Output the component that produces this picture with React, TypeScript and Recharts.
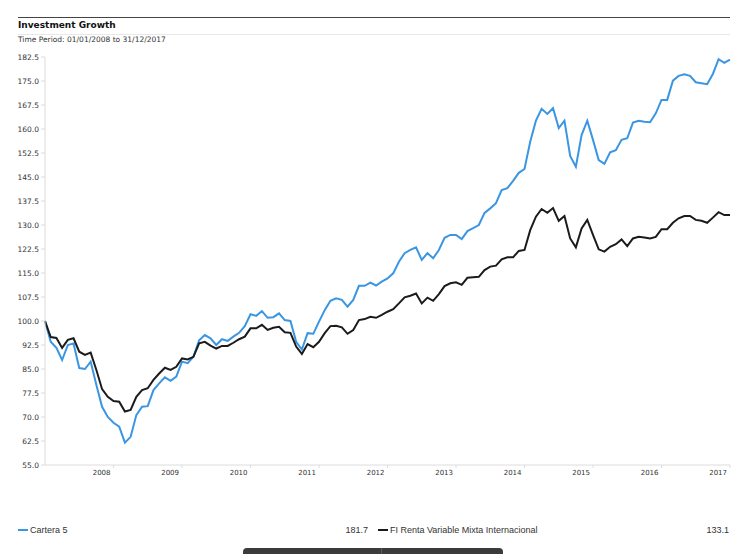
import { Line, LineChart, XAxis, YAxis } from 'recharts';

const years = ['2008', '2009', '2010', '2011', '2012', '2013', '2014', '2015', '2016', '2017'];

const yTicks = [55, 62.5, 70, 77.5, 85, 92.5, 100, 107.5, 115, 122.5, 130, 137.5, 145, 152.5, 160, 167.5, 175, 182.5];

// monthly values, Cartera 5
const cartera = [
    100, 93.5, 91.6, 87.8, 92.5, 93, 85.3, 85, 87.3, 80,
    73.2, 70, 68.2, 67, 62, 63.8, 70.6, 73.2, 73.4, 78.4,
    80.5, 82.4, 81.3, 82.6, 87.3, 86.8, 88.8, 94, 95.6, 94.6,
    92.5, 94.3, 93.8, 95.1, 96.3, 98.4, 102.1, 101.6, 103.1, 101,
    101.2, 102.4, 100.3, 100, 93.5, 91.1, 96.2, 96, 99.8, 103.4,
    106.3, 107.1, 106.6, 104.5, 106.6, 111, 111, 112, 111.1, 112.3,
    113.3, 114.9, 118.5, 121.2, 122.2, 123, 119.1, 121.2, 119.6, 122.2,
    126, 126.9, 126.9, 125.6, 128.1, 129, 130, 133.8, 135.2, 136.8,
    140.9, 141.5, 143.8, 146.3, 147.5, 156, 162.6, 166.3, 164.7, 166.5,
    160.3, 162.6, 151.6, 148.2, 158.1, 162.6, 156.6, 150.3, 149.1, 152.7,
    153.4, 156.6, 157.1, 162, 162.6, 162.3, 162.1, 164.9, 169.1, 169.1,
    175.1, 176.6, 177.1, 176.6, 174.6, 174.3, 174, 177.2, 181.8, 180.7,
    181.7,
];

// monthly values, FI Renta Variable Mixta Internacional
const fund = [
    100, 95, 94.7, 91.6, 94.1, 94.6, 90.4, 89.4, 90.1, 84.7,
    78.7, 76.3, 75, 74.8, 71.7, 72.2, 76.3, 78.4, 79, 81.6,
    83.6, 85.4, 84.7, 85.7, 88.3, 88, 88.8, 93, 93.5, 92.3,
    91.4, 92.2, 92.2, 93.2, 94.3, 95.1, 97.7, 97.7, 98.8, 97.2,
    97.9, 98.2, 96.5, 96.3, 92, 89.7, 92.8, 91.8, 93.5, 96.2,
    98.4, 98.5, 98, 96, 97.2, 100.3, 100.6, 101.3, 101, 101.9,
    102.9, 103.7, 105.5, 107.4, 107.9, 108.6, 105.5, 107.3, 106.3, 108.4,
    110.9, 111.8, 112.1, 111.3, 113.5, 113.7, 113.8, 115.9, 117, 117.3,
    119.3, 119.9, 119.9, 121.9, 122.2, 128.4, 132.6, 135, 133.8, 135.3,
    131.3, 132.8, 125.8, 123, 128.9, 131.6, 126.9, 122.4, 121.7, 123.2,
    124, 125.5, 123.4, 125.8, 126.3, 126.1, 125.8, 126.3, 128.7, 128.7,
    130.7, 132.1, 132.8, 132.8, 131.6, 131.3, 130.7, 132.3, 134, 133.1,
    133.1,
];

const data = cartera.map((v, i) => ({ m: i, cartera: v, fund: fund[i] }));
const xTicks = years.map((_, k) => 12 * (k + 1));

const BLUE = '#3a96e2';
const DARK = '#1b1b1b';
const AXIS = '#dcdcdc';

const YearTick = (props: any) => {
    const { x, y, payload } = props;
    const label = years[payload.value / 12 - 1];
    return (
        <text
            x={x - 3}
            y={y}
            dy="0.71em"
            textAnchor="end"
            fontSize={7}
            fontFamily="DejaVu Sans"
            fill="#333"
        >
            {label}
        </text>
    );
};

export default function App() {
    return (
        <div
            style={{
                position: 'absolute',
                left: 0,
                top: 0,
                width: 750,
                height: 554,
                background: '#fff',
                overflow: 'hidden',
            }}
        >
            <div style={{ position: 'absolute', left: 18, top: 17, width: 712, borderTop: '1px solid #444' }} />
            <div
                style={{
                    position: 'absolute',
                    left: 18,
                    top: 18,
                    fontFamily: 'DejaVu Sans',
                    fontWeight: 'bold',
                    fontSize: 9,
                    lineHeight: '14px',
                    color: '#111',
                }}
            >
                Investment Growth
            </div>
            <div style={{ position: 'absolute', left: 18, top: 34, width: 712, borderTop: '1px solid #e8e8e8' }} />
            <div
                style={{
                    position: 'absolute',
                    left: 18,
                    top: 35,
                    fontFamily: 'DejaVu Sans',
                    fontSize: 7.5,
                    lineHeight: '10px',
                    color: '#333',
                }}
            >
                Time Period: 01/01/2008 to 31/12/2017
            </div>

            <div style={{ position: 'absolute', left: 0, top: 0 }}>
                <LineChart
                    width={750}
                    height={554}
                    data={data}
                    margin={{ top: 57, right: 20, left: 0, bottom: 69 }}
                >
                    <XAxis
                        dataKey="m"
                        type="number"
                        domain={[0, 120]}
                        ticks={xTicks}
                        tick={<YearTick />}
                        height={20}
                        tickSize={3}
                        tickMargin={2}
                        axisLine={{ stroke: AXIS }}
                        tickLine={{ stroke: AXIS }}
                    />
                    <YAxis
                        type="number"
                        domain={[55, 182.5]}
                        ticks={yTicks}
                        width={45}
                        tickSize={4}
                        tickMargin={2}
                        tickFormatter={(v: number) => v.toFixed(1)}
                        tick={{ fontSize: 7.5, fontFamily: 'DejaVu Sans', fill: '#333' }}
                        axisLine={{ stroke: AXIS }}
                        tickLine={{ stroke: AXIS }}
                        interval={0}
                    />
                    <Line
                        type="linear"
                        dataKey="cartera"
                        stroke={BLUE}
                        strokeWidth={2}
                        dot={false}
                        isAnimationActive={false}
                    />
                    <Line
                        type="linear"
                        dataKey="fund"
                        stroke={DARK}
                        strokeWidth={2}
                        dot={false}
                        isAnimationActive={false}
                    />
                </LineChart>
            </div>

            <div
                style={{
                    position: 'absolute',
                    left: 18,
                    top: 524,
                    width: 712,
                    height: 12,
                    fontFamily: 'Liberation Sans',
                    fontSize: 9,
                    lineHeight: '12px',
                    color: '#333',
                }}
            >
                <div style={{ position: 'absolute', left: 0, top: 5, width: 10, height: 2, background: BLUE }} />
                <div style={{ position: 'absolute', left: 12 }}>Cartera 5</div>
                <div style={{ position: 'absolute', right: 362, textAlign: 'right' }}>181.7</div>
                <div style={{ position: 'absolute', left: 360, top: 5, width: 10, height: 2, background: DARK }} />
                <div style={{ position: 'absolute', left: 372 }}>FI Renta Variable Mixta Internacional</div>
                <div style={{ position: 'absolute', right: 1, textAlign: 'right' }}>133.1</div>
            </div>

            <div
                style={{
                    position: 'absolute',
                    left: 243,
                    top: 548,
                    width: 260,
                    height: 10,
                    borderRadius: '4px 4px 0 0',
                    background: '#3b3b3b',
                    overflow: 'hidden',
                }}
            >
                <div style={{ position: 'absolute', left: 138, top: 0, width: 1, height: 10, background: '#5a5a5a' }} />
            </div>
        </div>
    );
}
